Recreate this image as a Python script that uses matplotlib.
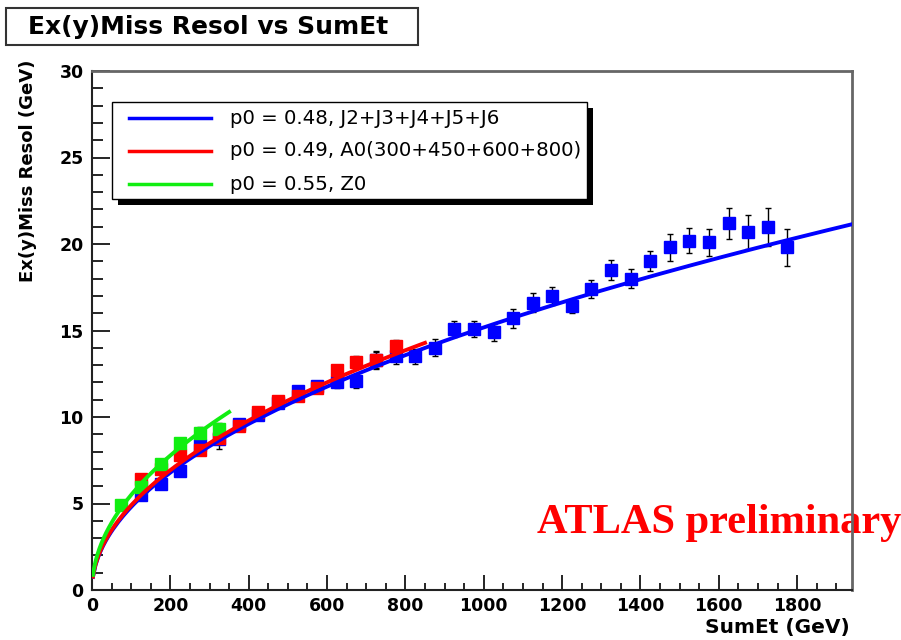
'''
Missing Ex(y) resolution as a function of SumEt for three samples,
with p0*sqrt(SumEt) fits drawn on top. Saves the figure to out.png.
'''
import numpy as np
import matplotlib
matplotlib.use("Agg")
import matplotlib.pyplot as plt
from matplotlib.lines import Line2D
from matplotlib.patches import Rectangle
from matplotlib.ticker import MultipleLocator

# J2+J3+J4+J5+J6 sample
jet_x = [125, 175, 225, 275, 325, 375, 425, 475, 525, 575, 625, 675, 725, 775,
         825, 875, 925, 975, 1025, 1075, 1125, 1175, 1225, 1275, 1325, 1375,
         1425, 1475, 1525, 1575, 1625, 1675, 1725, 1775]
jet_y = [5.5, 6.1, 6.9, 8.4, 8.7, 9.6, 10.1, 10.8, 11.5, 11.8, 12.0, 12.1, 13.3,
         13.5, 13.5, 14.0, 15.1, 15.1, 14.9, 15.7, 16.6, 17.0, 16.4, 17.4, 18.5,
         18.0, 19.0, 19.8, 20.2, 20.1, 21.2, 20.7, 21.0, 19.8]
jet_err = [0.2, 0.2, 0.25, 0.3, 0.55, 0.3, 0.3, 0.3, 0.3, 0.3, 0.35, 0.4, 0.45,
           0.45, 0.45, 0.5, 0.45, 0.45, 0.5, 0.55, 0.55, 0.5, 0.4, 0.5, 0.58,
           0.55, 0.58, 0.77, 0.73, 0.77, 0.9, 1.0, 1.1, 1.05]

# A0(300+450+600+800) sample
a0_x = [125, 175, 225, 275, 325, 375, 425, 475, 525, 575, 625, 675, 725, 775]
a0_y = [6.4, 7.0, 7.8, 8.1, 8.8, 9.5, 10.3, 10.9, 11.2, 11.7, 12.7, 13.2, 13.3, 14.1]
a0_err = [0.2, 0.2, 0.2, 0.25, 0.25, 0.25, 0.25, 0.25, 0.3, 0.3, 0.3, 0.35, 0.5, 0.35]

# Z0 sample
z0_x = [75, 125, 175, 225, 275, 325]
z0_y = [4.9, 5.95, 7.3, 8.5, 9.1, 9.3]
z0_err = [0.2, 0.2, 0.2, 0.25, 0.3, 0.35]

fit_p0 = [0.48, 0.49, 0.55]
fit_xmax = [1940, 850, 350]
fit_labels = ["p0 = 0.48, J2+J3+J4+J5+J6",
              "p0 = 0.49, A0(300+450+600+800)",
              "p0 = 0.55, Z0"]
colors = ["#0000ff", "#ff0000", "#11ee11"]

W, H = 901, 640
SANS = "DejaVu Sans"


def fx(px):
    return px / W


def fy(py):
    return 1 - py / H


fig = plt.figure(figsize=(W / 100, H / 100), dpi=100)
ax = fig.add_axes([fx(92), fy(590), fx(852) - fx(92), fy(71) - fy(590)])

samples = [(jet_x, jet_y, jet_err), (a0_x, a0_y, a0_err), (z0_x, z0_y, z0_err)]
for (xs, ys, es), c in zip(samples, colors):
    ax.errorbar(xs, ys, yerr=es, fmt="none", ecolor="black", elinewidth=1,
                capsize=2.5, capthick=1, zorder=2)
    ax.plot(xs, ys, "s", color=c, ms=8, mec=c, zorder=3)

for p0, xmax, c in zip(fit_p0, fit_xmax, colors):
    xx = np.linspace(2.5, xmax, 300)
    ax.plot(xx, p0 * np.sqrt(xx), color=c, lw=2.8, zorder=4)

ax.set_xlim(0, 1940)
ax.set_ylim(0, 30)
ax.xaxis.set_major_locator(MultipleLocator(200))
ax.xaxis.set_minor_locator(MultipleLocator(50))
ax.yaxis.set_major_locator(MultipleLocator(5))
ax.yaxis.set_minor_locator(MultipleLocator(1))
ax.tick_params(which="both", direction="in", top=False, right=False, width=1.2)
ax.tick_params(axis="y", which="major", length=13, pad=6)
ax.tick_params(axis="y", which="minor", length=8)
ax.tick_params(axis="x", which="major", length=11, pad=5)
ax.tick_params(axis="x", which="minor", length=5)
for lab in ax.get_xticklabels() + ax.get_yticklabels():
    lab.set_fontfamily(SANS)
    lab.set_fontweight("bold")
    lab.set_fontsize(12.5)
for side in ["left", "bottom"]:
    ax.spines[side].set_linewidth(1.5)
    ax.spines[side].set_color("#222222")
for side in ["top", "right"]:
    ax.spines[side].set_linewidth(2)
    ax.spines[side].set_color("#666666")

fig.text(fx(28), fy(60), "Ex(y)Miss Resol (GeV)", rotation=90, ha="center",
         va="top", family=SANS, weight="bold", size=13)
fig.text(fx(850), fy(627), "SumEt (GeV)", ha="right", va="center",
         family=SANS, weight="bold", size=14.5)

ax.text(fx(537), fy(533), "ATLAS preliminary", transform=fig.transFigure,
        color="red", family="Liberation Serif", weight="bold", size=30.5,
        va="baseline", clip_on=False, zorder=2)

# title box
fig.add_artist(Rectangle((fx(6), fy(45)), fx(418) - fx(6), fy(8) - fy(45),
                         transform=fig.transFigure, facecolor="white",
                         edgecolor="#333333", lw=1.5))
fig.text(fx(208), fy(27), "Ex(y)Miss Resol vs SumEt", ha="center", va="center",
         family=SANS, weight="bold", size=18)

# legend box with ROOT-style shadow
fig.add_artist(Rectangle((fx(118), fy(205)), fx(593) - fx(118), fy(108) - fy(205),
                         transform=fig.transFigure, facecolor="black",
                         edgecolor="none"))
fig.add_artist(Rectangle((fx(112), fy(199)), fx(587) - fx(112), fy(102) - fy(199),
                         transform=fig.transFigure, facecolor="white",
                         edgecolor="black", lw=1))
for i, (lab, c) in enumerate(zip(fit_labels, colors)):
    yrow = 118 + i * 33
    fig.add_artist(Line2D([fx(129), fx(211)], [fy(yrow), fy(yrow)],
                          transform=fig.transFigure, color=c, lw=2.5))
    fig.text(fx(230), fy(yrow), lab, ha="left", va="center", family=SANS, size=14.2)

fig.savefig("out.png", dpi=100)
